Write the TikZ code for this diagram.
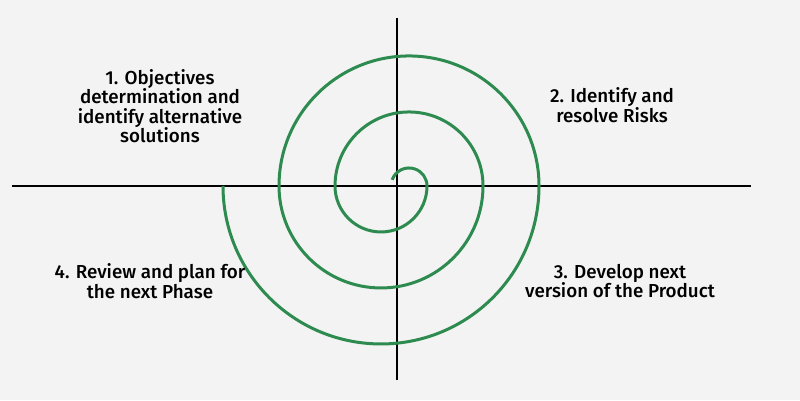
\documentclass[tikz,border=0pt]{standalone}
\usepackage{fontspec}
\setmainfont{Fira Sans}[UprightFont=* Medium]
\usepackage{tikz}
\usetikzlibrary{calc,positioning}

\definecolor{spiralgreen}{RGB}{46,139,80}
\definecolor{paper}{RGB}{243,243,243}

\begin{document}
\begin{tikzpicture}[x=1pt,y=1pt,
    axis/.style={line width=2pt,black},
    spiral/.style={line width=3pt,spiralgreen},
    phase/.style={align=center,inner sep=0pt,font=\fontsize{18.8}{19.5}\selectfont}]
            \fill[paper] (-397,-214) rectangle (403,186);
            \useasboundingbox (-397,-214) rectangle (403,186);

            % axes
            \coordinate (west) at (-385,0);
            \coordinate (east) at (354,0);
            \coordinate (north) at (0,168);
            \coordinate (south) at (0,-194);
            \draw[axis] (west) -- (east);
            \draw[axis] (north) -- (south);

            % spiral, half circles round two centres
            \coordinate (start) at (-4.9,6.2);
            \draw[spiral] (start)
                arc[start angle=160,end angle=0,radius=18pt]
                arc[start angle=0,end angle=-180,radius=46pt]
                arc[start angle=180,end angle=0,radius=74pt]
                arc[start angle=0,end angle=-180,radius=102pt]
                arc[start angle=180,end angle=0,radius=130pt]
                arc[start angle=0,end angle=-180,radius=158pt];

            % phases
            \node[phase] (objectives) at (-237,80) {1. Objectives\\determination and\\identify alternative\\solutions};
            \node[phase] (risks) at (215,81) {2. Identify and\\resolve Risks};
            \node[phase] (develop) at (223,-95) {3. Develop next\\version of the Product};
            \node[phase] (review) at (-247,-95) {4. Review and plan for\\the next Phase};
\end{tikzpicture}
\end{document}
